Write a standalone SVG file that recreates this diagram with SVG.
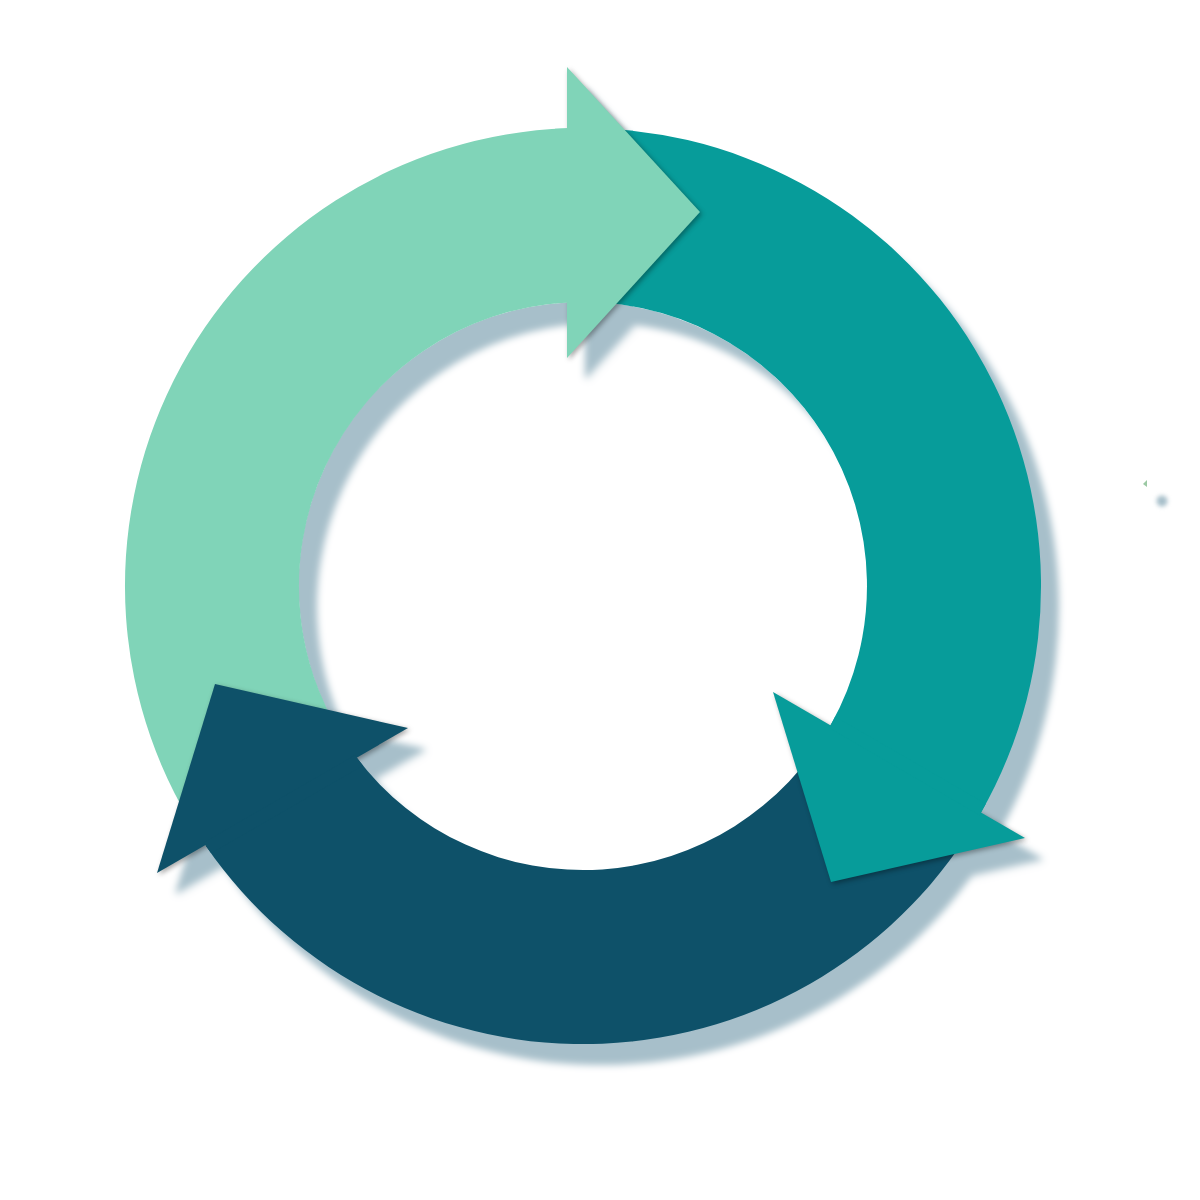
<svg xmlns="http://www.w3.org/2000/svg" width="1200" height="1200" viewBox="0 0 1200 1200">
  <defs>
    <filter id="bigShadow" x="-10%" y="-10%" width="125%" height="125%" color-interpolation-filters="sRGB">
      <feGaussianBlur in="SourceAlpha" stdDeviation="3.5" result="b"/>
      <feOffset in="b" dx="18" dy="21" result="o"/>
      <feFlood flood-color="#a7bfca"/>
      <feComposite in2="o" operator="in" result="s"/>
      <feMerge><feMergeNode in="s"/><feMergeNode in="SourceGraphic"/></feMerge>
    </filter>
    <filter id="headShadow" x="-20%" y="-20%" width="140%" height="140%" color-interpolation-filters="sRGB">
      <feGaussianBlur in="SourceAlpha" stdDeviation="2.5" result="b"/>
      <feOffset in="b" dx="1.5" dy="1.5" result="o"/>
      <feFlood flood-color="#000" flood-opacity="0.35"/>
      <feComposite in2="o" operator="in" result="s"/>
      <feMerge><feMergeNode in="s"/><feMergeNode in="SourceGraphic"/></feMerge>
    </filter>
    <filter id="soft" x="-100%" y="-100%" width="300%" height="300%" color-interpolation-filters="sRGB">
      <feGaussianBlur stdDeviation="2"/>
    </filter>
    <clipPath id="annulus">
      <path clip-rule="evenodd" d="M583,128 A458,458 0 1 1 583,1044 A458,458 0 1 1 583,128 Z M583,302 A284,284 0 1 1 583,870 A284,284 0 1 1 583,302 Z"/>
    </clipPath>
    <style>
      .green { fill: #80d4b8; }
      .teal { fill: #079c9a; }
      .blue { fill: #0e5169; }
      .head { filter: url(#headShadow); }
      .edge { fill: none; stroke: #ffffff; stroke-width: 1.4; }
    </style>
  </defs>
  <rect width="1200" height="1200" fill="#ffffff"/>
  <g id="cycle" filter="url(#bigShadow)">
    <path class="edge" d="M356.2,758.6 A284.8,284.8 0 0 1 566.8,301.7 M567.2,301.7 A284.8,284.8 0 0 1 831.2,725"/>
    <g id="connectors">
      <path id="green-body" class="green" d="M205.7,845.7 A458,458 0 0 1 567,128.3 L567,302.5 A284,284 0 0 0 356.8,757.8 Z"/>
      <path id="teal-body" class="teal" d="M567,128.3 A458,458 0 0 1 981.1,812.5 L830.5,725.3 A284,284 0 0 0 567,302.5 Z"/>
      <path id="blue-body" class="blue" d="M981.1,812.5 A458,458 0 0 1 205.7,845.7 L356.8,757.8 A284,284 0 0 0 830.5,725.3 Z"/>
    </g>
    <g id="arrow-green">
      <polygon class="green head" points="567,67 700,212 567,358"/>
      <rect class="green" x="555" y="100" width="15" height="240" clip-path="url(#annulus)"/>
    </g>
    <g id="arrow-teal">
      <polygon class="teal head" points="773,692 1025,838 831,882"/>
      <polygon class="teal" points="749.9,682.1 1045.1,853.1 1051.6,841.9 756.4,670.9" clip-path="url(#annulus)"/>
    </g>
    <g id="arrow-blue">
      <polygon class="blue head" points="408,728 157,873 215,684"/>
      <polygon class="blue" points="428.1,712.9 133.9,882.9 140.4,894.1 434.6,724.1" clip-path="url(#annulus)"/>
    </g>
  </g>
  <g id="stray">
    <circle cx="1162" cy="501" r="5.5" fill="#a7bfca" filter="url(#soft)"/>
    <polygon points="1143,484 1147,480 1147,487" fill="#9cc9a4"/>
  </g>
</svg>
